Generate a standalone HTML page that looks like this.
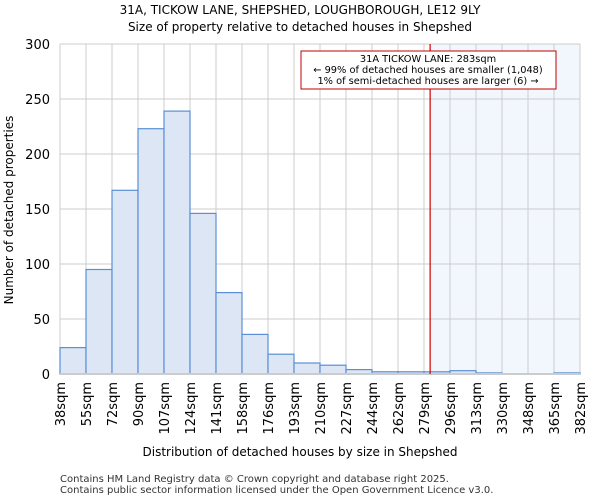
<!DOCTYPE html>
<html><head><meta charset="utf-8"><style>
body{margin:0;background:#fff;font-family:"DejaVu Sans","Liberation Sans",sans-serif}
</style></head><body>
<svg id="c" width="600" height="500" xmlns="http://www.w3.org/2000/svg" font-family="DejaVu Sans, Liberation Sans, sans-serif">
<text x="300" y="14" text-anchor="middle" font-size="12">31A, TICKOW LANE, SHEPSHED, LOUGHBOROUGH, LE12 9LY</text>
<text x="300" y="31" text-anchor="middle" font-size="12">Size of property relative to detached houses in Shepshed</text>
<g id="grid"></g><g id="bars"></g><g id="axes"></g>
<text x="300" y="456" text-anchor="middle" font-size="12">Distribution of detached houses by size in Shepshed</text>
<text transform="translate(13,210) rotate(-90)" text-anchor="middle" font-size="12">Number of detached properties</text>
<text x="60" y="482" font-size="10" fill="#333">Contains HM Land Registry data © Crown copyright and database right 2025.</text>
<text x="60" y="493" font-size="10" fill="#333">Contains public sector information licensed under the Open Government Licence v3.0.</text>
</svg>
<script>
const binLabels=["38sqm","55sqm","72sqm","90sqm","107sqm","124sqm","141sqm","158sqm","176sqm","193sqm","210sqm","227sqm","244sqm","262sqm","279sqm","296sqm","313sqm","330sqm","348sqm","365sqm","382sqm"];
const counts=[24,95,167,223,239,146,74,36,18,10,8,4,2,2,2,3,1,0,0,1];
const yTicks=[0,50,100,150,200,250,300];
const subjectSize=283;
const binEdges=[38,55,72,90,107,124,141,158,176,193,210,227,244,262,279,296,313,330,348,365,382];
const NS="http://www.w3.org/2000/svg";
const L=60,R=580,T=44,B=374;
const bw=(R-L)/counts.length;
const y=v=>B-(v/300)*(B-T);
const xi=i=>L+i*bw;
function xv(v){for(let i=0;i<binEdges.length-1;i++){if(v<=binEdges[i+1])return xi(i)+bw*(v-binEdges[i])/(binEdges[i+1]-binEdges[i]);}return R;}
function mk(t,a,p){const e=document.createElementNS(NS,t);for(const k in a)e.setAttribute(k,a[k]);p.appendChild(e);return e;}
const g=document.getElementById('grid'),bars=document.getElementById('bars'),ax=document.getElementById('axes');
const sx=xv(subjectSize);
const sh=mk('rect',{x:sx,y:T,width:R-sx,height:B-T,fill:'#f2f6fd'},g);


yTicks.forEach(v=>{
 const l=mk('line',{x1:L,x2:R,y1:y(v),y2:y(v),stroke:'#ccc'},g);
 
 
 const t=mk('text',{x:L-10,y:y(v)+5,'text-anchor':'end','font-size':13},ax);
 t.textContent=v;
 
 
});
binLabels.forEach((s,i)=>{
 const l=mk('line',{x1:xi(i),x2:xi(i),y1:T,y2:B,stroke:'#ccc'},g);
 
 
 const t=mk('text',{transform:`translate(${xi(i)+5},${B+8}) rotate(-90)`,'text-anchor':'end','font-size':13},ax);
 t.textContent=s;
 
 
});
counts.forEach((c,i)=>{
 const r=mk('rect',{x:xi(i),y:y(c),width:bw,height:B-y(c),fill:'#dce6f4',stroke:'#5b8fd4','stroke-width':1.2},bars);
 
 
});
const bl=mk('line',{x1:L,x2:R,y1:B,y2:B,stroke:'#ccc','stroke-width':2},ax);


const rl=mk('line',{x1:sx,x2:sx,y1:T,y2:B,stroke:'#d00000','stroke-width':1.2},ax);


const box=mk('rect',{x:301,y:51,width:255,height:38,fill:'#fff',stroke:'#c00000'},ax);


[["31A TICKOW LANE: "+subjectSize+"sqm",62],["← 99% of detached houses are smaller (1,048)",73],["1% of semi-detached houses are larger (6) →",84]].forEach(([s,yy])=>{
 const t=mk('text',{x:428,y:yy,'text-anchor':'middle','font-size':9.8},ax);
 t.textContent=s;
 
 
});
</script>
</body></html>
